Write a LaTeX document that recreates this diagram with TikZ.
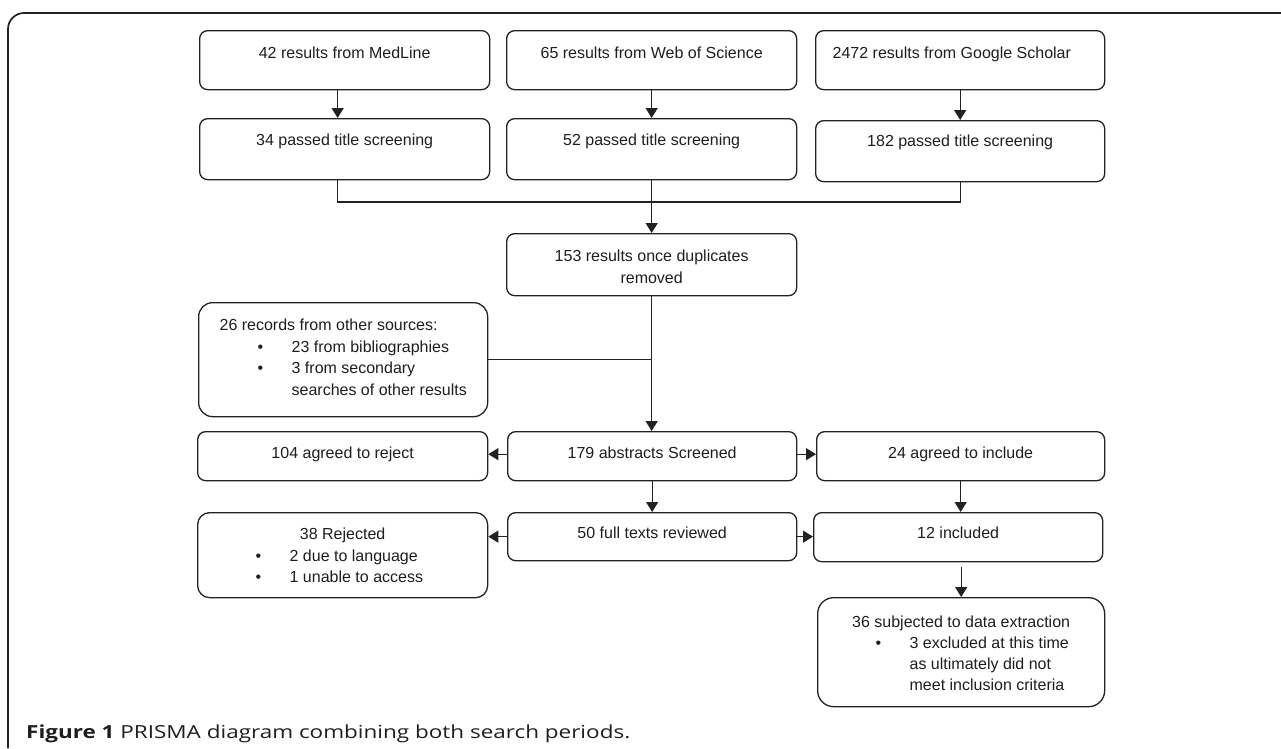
\documentclass[tikz,border=0pt]{standalone}
\usepackage{fontspec}
\usepackage{graphicx}
\usetikzlibrary{arrows.meta,calc}
\setmainfont{Liberation Sans}
\newfontfamily\capf{Open Sans}
\definecolor{lc}{HTML}{222222}
\definecolor{tc}{HTML}{1E1E1E}
\newcommand\bxfont{\fontsize{16}{21.5}\selectfont}
\newcommand\bul[1]{\makebox[#1pt][l]{\textbullet}}
\begin{document}
\begin{tikzpicture}[x=1pt,y=-1pt,
  bx/.style={draw=lc, line width=1.3pt, rounded corners=8pt, inner sep=0pt, anchor=north west, text=tc, font=\bxfont},
  big/.style={bx, rounded corners=14pt},
  ln/.style={draw=lc, line width=1.3pt},
  arr/.style={ln, -{Triangle[length=10pt,width=12pt]}}]
\useasboundingbox (0,0) rectangle (1281,748);
% outer frame
\draw[draw=lc, line width=1.7pt, rounded corners=16pt] (8,748) -- (8,13) -- (1281,13);
% row 1
\node[bx, minimum width=290pt, text height=28pt, text depth=31pt] (b1) at (199,30) {42 results from MedLine};
\node[bx, minimum width=290pt, text height=28pt, text depth=31pt] (b2) at (506,30) {65 results from Web of Science};
\node[bx, minimum width=289pt, text height=28pt, text depth=31pt] (b3) at (815,30) {\makebox[289pt][l]{\hspace*{17pt}2472 results from Google Scholar}};
% row 2
\node[bx, minimum width=290pt, text height=27pt, text depth=34pt] (p1) at (199,118) {34 passed title screening};
\node[bx, minimum width=290pt, text height=27pt, text depth=34pt] (p2) at (506,118) {52 passed title screening};
\node[bx, minimum width=289pt, text height=26pt, text depth=35pt] (p3) at (815,120) {182 passed title screening};
% duplicates
\node[bx, minimum width=290pt, text height=28pt, text depth=34pt] (dup) at (506,233) {\begin{tabular}[t]{@{}c@{}}153 results once duplicates\\removed\end{tabular}};
% other sources
\node[big, minimum width=289pt, text height=28pt, text depth=86pt] (oth) at (198,302) {\makebox[289pt][l]{\hspace*{21pt}\begin{tabular}[t]{@{}l@{}}26 records from other sources:\\
\hspace*{38pt}\bul{34}23 from bibliographies\\
\hspace*{38pt}\bul{34}3 from secondary\\
\hspace*{72pt}searches of other results\end{tabular}}};
% row 3
\node[bx, minimum width=290pt, text height=27pt, text depth=22pt] (rej) at (197,431) {104 agreed to reject};
\node[bx, minimum width=289pt, text height=27pt, text depth=22pt] (abs) at (507,431) {179 abstracts Screened};
\node[bx, minimum width=288pt, text height=27pt, text depth=22pt] (inc) at (816,431) {24 agreed to include};
% row 4
\node[big, rounded corners=12pt, minimum width=290pt, text height=27pt, text depth=58pt] (r38) at (197,512) {\begin{tabular}[t]{@{}l@{}}\makebox[290pt]{38 Rejected}\\
\hspace*{58pt}\bul{34}2 due to language\\
\hspace*{58pt}\bul{34}1 unable to access\end{tabular}};
\node[bx, minimum width=289pt, text height=26pt, text depth=22pt] (ft) at (507,512) {50 full texts reviewed};
\node[bx, minimum width=289pt, text height=26pt, text depth=23pt] (i12) at (813,512) {12 included};
% data extraction
\node[big, rounded corners=16pt, minimum width=287pt, text height=30pt, text depth=79pt] (d36) at (817,597) {\bxfont\fontsize{16}{21}\selectfont\begin{tabular}[t]{@{}l@{}}\makebox[287pt]{36 subjected to data extraction}\\
\hspace*{58pt}\bul{34}3 excluded at this time\\
\hspace*{92pt}as ultimately did not\\
\hspace*{92pt}meet inclusion criteria\end{tabular}};
% connectors
\draw[arr] ([xshift=-7pt]b1.south) -- ([xshift=-7pt]p1.north);
\draw[arr] (b2.south) -- (p2.north);
\draw[arr] (b3.south) -- (p3.south |- p3.north);
\coordinate (m) at (651,202);
\draw[ln] ([xshift=-7pt]p1.south) |- (m) -| (p3.south);
\draw[arr] (p2.south) -- (dup.north);
\draw[arr] (dup.south) -- (dup.south |- abs.north);
\draw[ln] (oth.east) -- (oth.east -| dup.south);
\draw[arr] ([yshift=2pt]abs.west) -- ([yshift=2pt]rej.east);
\draw[arr] ([yshift=2pt]abs.east) -- ([yshift=2pt]inc.west);
\draw[arr] (abs.south) -- (abs.south |- ft.north);
\draw[arr] (ft.west) -- (ft.west -| r38.east);
\draw[arr] (ft.east) -- (ft.east -| i12.west);
\draw[arr] (inc.south) -- (inc.south |- i12.north);
\draw[arr] ([yshift=-5pt]i12.south -| d36.north) -- (d36.north);
% caption
\node[anchor=base west, inner sep=0pt, text=tc] (cap) at (26,738) {\resizebox{604pt}{\height}{\capf\fontsize{18}{22}\selectfont\textbf{Figure 1} PRISMA diagram combining both search periods.}};
\end{tikzpicture}
\end{document}
